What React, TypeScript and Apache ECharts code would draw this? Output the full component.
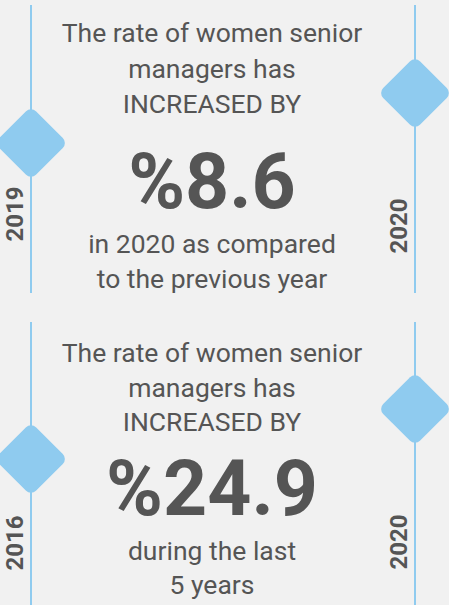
import React, { useEffect, useRef } from "react";
import * as echarts from "echarts";

const startYears = ["2019", "2016"];
const endYears = ["2020", "2020"];
const headlineLines = ["The rate of women senior", "managers has", "INCREASED BY"];
const increaseValues = [8.6, 24.9];
const footnoteLines = [
  ["in 2020 as compared", "to the previous year"],
  ["during the last", "5 years"],
];

const W = 449;
const H = 605;
const BLUE = "#8fcbef";
const TEXT = "#555555";
const FONT = "Roboto, 'Noto Sans', sans-serif";

function diamond(cx: number, cy: number) {
  return {
    type: "rect",
    x: cx,
    y: cy,
    rotation: Math.PI / 4,
    shape: { x: -26, y: -26, width: 52, height: 52, r: 7 },
    style: { fill: BLUE },
    z: 3,
  };
}

function vline(x: number, y1: number, y2: number) {
  return {
    type: "line",
    shape: { x1: x, y1, x2: x, y2 },
    style: { stroke: BLUE, lineWidth: 2 },
    z: 1,
  };
}

function yearLabel(text: string, cx: number, cy: number) {
  return {
    type: "text",
    x: cx,
    y: cy,
    rotation: Math.PI / 2,
    style: {
      text,
      fill: TEXT,
      font: `bold 24px ${FONT}`,
      align: "center",
      verticalAlign: "middle",
    },
    z: 4,
  };
}

function line(text: string, cy: number, size: number, bold = false) {
  return {
    type: "text",
    x: 212,
    y: cy,
    style: {
      text,
      fill: TEXT,
      font: `${bold ? "bold " : ""}${size}px ${FONT}`,
      align: "center",
      verticalAlign: "middle",
    },
    z: 4,
  };
}

const panels = [
  {
    top: 5,
    bottom: 293,
    leftDiamondY: 143,
    rightDiamondY: 93,
    leftYearY: 214,
    rightYearY: 226,
    headY: [32, 68, 103],
    bigY: 182,
    footY: [243, 278],
  },
  {
    top: 322,
    bottom: 605,
    leftDiamondY: 459,
    rightDiamondY: 409,
    leftYearY: 543,
    rightYearY: 542,
    headY: [352, 387, 421],
    bigY: 489,
    footY: [550, 584],
  },
];

export default function App() {
  const ref = useRef<HTMLDivElement>(null);
  useEffect(() => {
    if (!ref.current) return;
    const chart = echarts.init(ref.current, undefined, { renderer: "svg" });
    const elements: any[] = [];
    panels.forEach((p, i) => {
      elements.push(vline(31, p.top, p.bottom));
      elements.push(vline(415, p.top, p.bottom));
      elements.push(diamond(31, p.leftDiamondY));
      elements.push(diamond(415, p.rightDiamondY));
      elements.push(yearLabel(startYears[i], 15, p.leftYearY));
      elements.push(yearLabel(endYears[i], 399, p.rightYearY));
      headlineLines.forEach((t, k) => elements.push(line(t, p.headY[k], 26.5)));
      elements.push(line("%" + increaseValues[i].toFixed(1), p.bigY, 77, true));
      footnoteLines[i].forEach((t, k) => elements.push(line(t, p.footY[k], 26.5)));
    });
    chart.setOption({
      animation: false,
      backgroundColor: "#f1f1f1",
      graphic: { elements },
    });
    return () => chart.dispose();
  }, []);
  return (
    <div
      ref={ref}
      style={{ position: "fixed", left: 0, top: 0, width: W, height: H }}
    />
  );
}
